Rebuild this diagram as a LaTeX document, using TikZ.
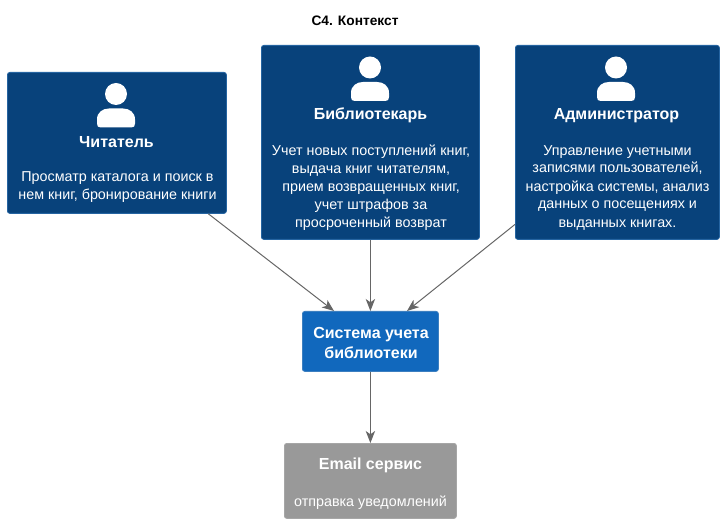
\documentclass[tikz,border=0pt]{standalone}
\usepackage{fontspec}
\setmainfont{Liberation Sans}
\usetikzlibrary{arrows.meta}
\definecolor{persona}{HTML}{08427B}
\definecolor{sysa}{HTML}{1168BD}
\definecolor{sysb}{HTML}{3C7FC0}
\definecolor{exta}{HTML}{999999}
\definecolor{extb}{HTML}{A6A6A6}
\definecolor{rel}{HTML}{666666}
\tikzset{
  x=0.75pt,y=-0.75pt,
  boxbase/.style={rectangle,rounded corners=1.8pt,line width=0.6pt,inner sep=0pt,anchor=north west},
  personbox/.style={boxbase,fill=persona,draw=sysb!55!persona},
  sysbox/.style={boxbase,fill=sysa,draw=sysb},
  extbox/.style={boxbase,fill=exta,draw=extb},
  titletext/.style={text=white,font=\fontsize{12}{15}\selectfont\bfseries,align=center,inner sep=0pt},
  bodytext/.style={text=white,font=\fontsize{10.75}{13.5}\selectfont,align=center,inner sep=0pt},
  rel/.style={draw=rel,line width=0.75pt,-{Stealth[length=9pt,width=7pt,inset=2.5pt]}},
  pics/person/.style={code={
    \fill[white] (0,-13.5) circle[radius=11];
    \fill[white] (-19,16) -- (-19,12) .. controls (-19,4.5) and (-13,1) .. (-7,1) -- (7,1) .. controls (13,1) and (19,4.5) .. (19,12) -- (19,16) .. controls (19,19) and (18,20) .. (15,20) -- (-15,20) .. controls (-18,20) and (-19,19) .. (-19,16) -- cycle;
  }}
}
\begin{document}
\begin{tikzpicture}
\useasboundingbox (0,0) rectangle (723,523);
\node[font=\fontsize{10.3}{12}\selectfont\bfseries,inner sep=0pt] (title) at (355,20.5) {С4. Контекст};

\node[personbox,minimum width=164.25pt,minimum height=105.75pt] (reader) at (7,72) {};
\node[personbox,minimum width=163.5pt,minimum height=145.5pt] (librarian) at (261,45) {};
\node[personbox,minimum width=153pt,minimum height=145.5pt] (admin) at (515,45) {};
\node[sysbox,minimum width=102pt,minimum height=45pt] (system) at (302,311) {};
\node[extbox,minimum width=129pt,minimum height=56.25pt] (email) at (284,443) {};

\pic at (116,107.5) {person};
\pic at (370,81) {person};
\pic at (616,81) {person};

\node[titletext] (readert) at (116.5,142) {Читатель};
\node[bodytext] (readerd) at (117.5,187) {Просматр каталога и поиск в\\нем книг, бронирование книги};

\node[titletext] (libt) at (370.5,115.5) {Библиотекарь};
\node[bodytext] (libd) at (371,187.5) {Учет новых поступлений книг,\\выдача книг читателям,\\прием возвращенных книг,\\учет штрафов за\\просроченный возврат};

\node[titletext] (admt) at (616.5,115.5) {Администратор};
\node[bodytext] (admd) at (617.5,187.5) {Управление учетными\\записями пользователей,\\настройка системы, анализ\\данных о посещениях и\\выданных книгах.};

\node[titletext] (syst) at (371,342.5) {Система учета\\библиотеки};

\node[titletext] (emailt) at (370.5,465.5) {Email сервис};
\node[bodytext] (emaild) at (370.5,502.5) {отправка уведомлений};

\coordinate (sysl) at (334,311);
\coordinate (sysr) at (407,311);
\draw[rel] (reader) -- (sysl);
\draw[rel] (librarian) -- (system);
\draw[rel] (admin) -- (sysr);
\draw[rel] (system) -- (email);
\end{tikzpicture}
\end{document}
